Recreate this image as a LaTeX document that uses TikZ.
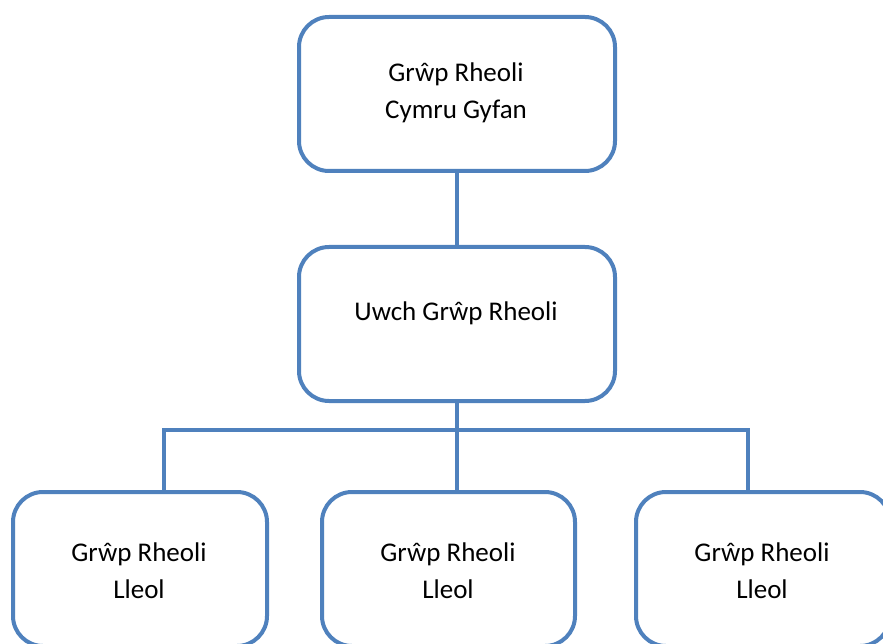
\documentclass[tikz,border=0pt]{standalone}
\usepackage{fontspec}
\setmainfont{Carlito}
\definecolor{boxblue}{RGB}{79,129,189}
\begin{document}
\begin{tikzpicture}[x=1pt,y=-1pt,
  box/.style={draw=boxblue,line width=4pt,rounded corners=30pt,fill=white,
    minimum height=154pt,inner sep=0pt,outer sep=0pt},
  link/.style={draw=boxblue,line width=3.6pt},
  lbl/.style={font=\fontsize{27}{37}\selectfont,align=center,inner sep=0pt}]
\useasboundingbox (0,0) rectangle (883,644);
% connectors
\coordinate (j) at (457,430);
\coordinate (jl) at (164,430);
\coordinate (jr) at (748,430);
\node[box,minimum width=316pt] (top) at (457,94) {};
\node[box,minimum width=316pt] (mid) at (457,324) {};
\node[box,minimum width=254pt] (bl) at (140,569) {};
\node[box,minimum width=253pt] (bm) at (448.5,569) {};
\node[box,minimum width=254pt] (br) at (763,569) {};
\draw[link] (top.south -| j) -- (mid.north -| j);
\draw[link] (mid.south -| j) -- (j);
\draw[link,line cap=rect] (jl) -- (jr);
\draw[link] (jl) -- (jl |- bl.north);
\draw[link] (j) -- (j |- bm.north);
\draw[link] (jr) -- (jr |- br.north);
% labels
\node[lbl] (ttop) at (456,93) {Grŵp Rheoli\\Cymru Gyfan};
\node[lbl] (tmid) at (456,313) {Uwch Grŵp Rheoli};
\node[lbl] (tbl) at (139,571) {Grŵp Rheoli\\Lleol};
\node[lbl] (tbm) at (448,571) {Grŵp Rheoli\\Lleol};
\node[lbl] (tbr) at (762,571) {Grŵp Rheoli\\Lleol};
\end{tikzpicture}
\end{document}
